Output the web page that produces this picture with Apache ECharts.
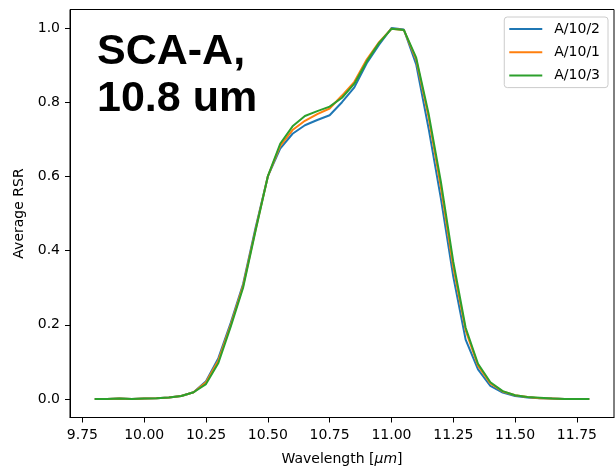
<!DOCTYPE html>
<html>
<head>
<meta charset="utf-8">
<script src="https://cdn.jsdelivr.net/npm/echarts@6/dist/echarts.min.js"></script>
<style>
  html, body { margin: 0; padding: 0; background: #fff; }
  #chart { width: 616px; height: 469px; }
</style>
</head>
<body>
<div id="chart"></div>
<script>
// Wavelength samples (µm)
const wavelength = [
  9.80, 9.85, 9.90, 9.95, 10.00, 10.05, 10.10, 10.15, 10.20, 10.25,
  10.30, 10.35, 10.40, 10.45, 10.50, 10.55, 10.60, 10.65, 10.70, 10.75,
  10.80, 10.85, 10.90, 10.95, 11.00, 11.05, 11.10, 11.15, 11.20, 11.25,
  11.30, 11.35, 11.40, 11.45, 11.50, 11.55, 11.60, 11.65, 11.70, 11.75,
  11.80
];

// Average relative spectral response per detector
const rsrA10_2 = [
  0.000, 0.000, 0.001, 0.000, 0.001, 0.002, 0.004, 0.008, 0.018, 0.048,
  0.110, 0.205, 0.310, 0.460, 0.600, 0.675, 0.715, 0.738, 0.752, 0.765,
  0.800, 0.840, 0.905, 0.955, 1.000, 0.996, 0.902, 0.730, 0.540, 0.330,
  0.160, 0.080, 0.035, 0.017, 0.008, 0.004, 0.002, 0.001, 0.000, 0.000,
  0.000
];
const rsrA10_1 = [
  0.000, 0.000, 0.001, 0.000, 0.001, 0.002, 0.004, 0.008, 0.018, 0.045,
  0.104, 0.200, 0.305, 0.455, 0.600, 0.682, 0.725, 0.750, 0.768, 0.783,
  0.818, 0.855, 0.915, 0.962, 0.998, 0.995, 0.915, 0.760, 0.570, 0.355,
  0.185, 0.090, 0.042, 0.020, 0.010, 0.005, 0.002, 0.001, 0.000, 0.000,
  0.000
];
const rsrA10_3 = [
  0.000, 0.000, 0.001, 0.000, 0.001, 0.002, 0.004, 0.008, 0.018, 0.040,
  0.097, 0.195, 0.300, 0.452, 0.600, 0.688, 0.735, 0.763, 0.776, 0.788,
  0.812, 0.850, 0.910, 0.960, 0.998, 0.995, 0.920, 0.770, 0.585, 0.370,
  0.192, 0.095, 0.045, 0.021, 0.010, 0.005, 0.003, 0.001, 0.000, 0.000,
  0.000
];

const seriesNames = ['A/10/2', 'A/10/1', 'A/10/3'];
const xTicks = [9.75, 10.00, 10.25, 10.50, 10.75, 11.00, 11.25, 11.50, 11.75];
const yTicks = [0.0, 0.2, 0.4, 0.6, 0.8, 1.0];

const colors = ['#1f77b4', '#ff7f0e', '#2ca02c'];
const font = 'DejaVu Sans';

function pairs(ys) {
  return wavelength.map((w, i) => [w, ys[i]]);
}

const chart = echarts.init(document.getElementById('chart'), null, { renderer: 'canvas' });

chart.setOption({
  animation: false,
  backgroundColor: '#ffffff',
  color: colors,
  grid: {
    left: 70, right: 2, top: 9.5, bottom: 51.5,
    show: true, borderColor: '#000', borderWidth: 1,
    backgroundColor: 'transparent',
    containLabel: false,
    outerBoundsMode: 'none'
  },
  xAxis: {
    type: 'value',
    min: 9.7, max: 11.9,
    name: 'Wavelength [{i|μm}]',
    nameLocation: 'middle',
    nameGap: 35,
    nameTextStyle: {
      fontFamily: font, fontSize: 14, color: '#000',
      rich: { i: { fontFamily: font, fontStyle: 'italic', fontSize: 14, color: '#000' } }
    },
    axisLine: { show: true, onZero: false, lineStyle: { color: '#000', width: 1 } },
    axisTick: { show: true, inside: false, length: 5, lineStyle: { color: '#000', width: 1 }, customValues: xTicks },
    axisLabel: {
      fontFamily: font, fontSize: 14, color: '#000', margin: 11,
      customValues: xTicks,
      formatter: v => v.toFixed(2)
    },
    splitLine: { show: false }
  },
  yAxis: {
    type: 'value',
    min: -0.05, max: 1.05,
    name: 'Average RSR',
    nameLocation: 'middle',
    nameGap: 43,
    nameTextStyle: { fontFamily: font, fontSize: 14, color: '#000' },
    axisLine: { show: true, onZero: false, lineStyle: { color: '#000', width: 1 } },
    axisTick: { show: true, inside: false, length: 5, lineStyle: { color: '#000', width: 1 }, customValues: yTicks },
    axisLabel: {
      fontFamily: font, fontSize: 14, color: '#000', margin: 10,
      customValues: yTicks,
      formatter: v => v.toFixed(1)
    },
    splitLine: { show: false }
  },
  legend: {
    orient: 'vertical',
    right: 8, top: 17,
    itemWidth: 33, itemHeight: 2, itemGap: 9.3,
    icon: 'rect',
    padding: [5, 8, 5, 5],
    borderColor: '#cccccc', borderWidth: 1, borderRadius: 3,
    backgroundColor: 'rgba(255,255,255,0.8)',
    textStyle: { fontFamily: font, fontSize: 14, color: '#000', lineHeight: 14, padding: [0, 0, 0, 7] },
    data: seriesNames
  },
  graphic: [
    {
      type: 'text', left: 97, top: 31, z: 10,
      style: { text: 'SCA-A,', font: 'bold 43px "Liberation Sans", Arial, sans-serif', fill: '#000' }
    },
    {
      type: 'text', left: 97, top: 78, z: 10,
      style: { text: '10.8 um', font: 'bold 43px "Liberation Sans", Arial, sans-serif', fill: '#000' }
    }
  ],
  series: [
    { name: seriesNames[0], type: 'line', data: pairs(rsrA10_2), symbol: 'none', lineStyle: { width: 2 }, z: 2 },
    { name: seriesNames[1], type: 'line', data: pairs(rsrA10_1), symbol: 'none', lineStyle: { width: 2 }, z: 3 },
    { name: seriesNames[2], type: 'line', data: pairs(rsrA10_3), symbol: 'none', lineStyle: { width: 2 }, z: 4 }
  ]
});
</script>
</body>
</html>
